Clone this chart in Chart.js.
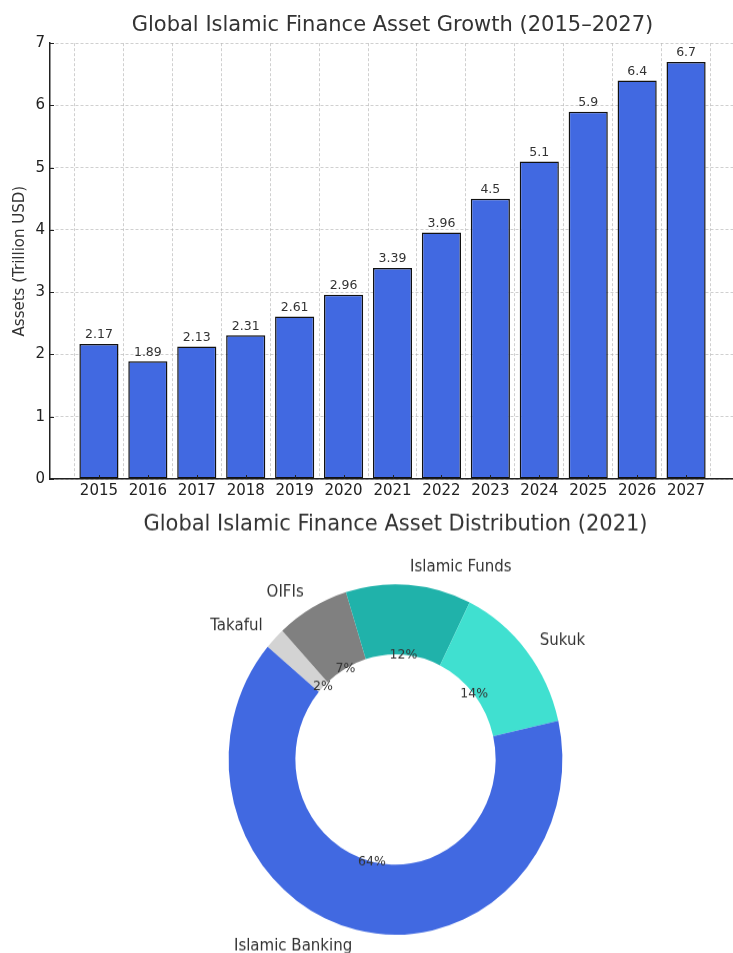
<!DOCTYPE html>
<html>
<head>
<meta charset="utf-8">
<title>Global Islamic Finance</title>
<script src="https://cdn.jsdelivr.net/npm/chart.js@4.4.1/dist/chart.umd.min.js"></script>
<style>
  html, body { margin: 0; padding: 0; background: #fff; overflow: hidden; width: 733px; height: 953px; }
  /* the bar axes run a few px past the right edge, as in the reference */
  #growthBox { position: absolute; left: 0; top: 0; width: 738px; height: 505px; }
  /* the reference donut is slightly taller than wide; canvas shifted so its centre sits at x=395 */
  #splitBox { position: absolute; left: 28.5px; top: 500px; width: 733px; height: 432px;
      transform: scaleY(1.05); transform-origin: 0 0; }
</style>
</head>
<body>
<div id="growthBox"><canvas id="growth" width="738" height="505"></canvas></div>
<div id="splitBox"><canvas id="split" width="733" height="432"></canvas></div>
<script>
// bar chart data
const years = ["2015", "2016", "2017", "2018", "2019", "2020", "2021",
    "2022", "2023", "2024", "2025", "2026", "2027"];
const assets = [2.17, 1.89, 2.13, 2.31, 2.61, 2.96, 3.39, 3.96, 4.5, 5.1, 5.9, 6.4, 6.7];
const yMax = 7;

// donut data (2021)
const segments = ["Islamic Banking", "Sukuk", "Islamic Funds", "OIFIs", "Takaful"];
const shares = [64, 14, 12, 7, 2];
const segmentColors = ["#4169E1", "#40E0D0", "#20B2AA", "#808080", "#D3D3D3"];

Chart.defaults.font.family = "'DejaVu Sans', sans-serif";
Chart.defaults.color = "#222";

const gridColor = "rgba(176,176,176,0.6)";

const innerTicks = {
    id: "innerTicks",
    afterDraw(chart) {
        const { ctx, chartArea, scales } = chart;
        ctx.save();
        ctx.strokeStyle = "#222";
        ctx.lineWidth = 1;
        ctx.beginPath();
        scales.y.ticks.forEach(t => {
            const py = Math.round(scales.y.getPixelForValue(t.value)) + 0.5;
            ctx.moveTo(chartArea.left, py);
            ctx.lineTo(chartArea.left + 4, py);
        });
        years.forEach((_, i) => {
            const px = Math.round(scales.x.getPixelForValue(i)) + 0.5;
            ctx.moveTo(px, chartArea.bottom);
            ctx.lineTo(px, chartArea.bottom - 4);
        });
        ctx.stroke();
        ctx.restore();
    }
};

const barValues = {
    id: "barValues",
    afterDatasetsDraw(chart) {
        const { ctx } = chart;
        const meta = chart.getDatasetMeta(0);
        ctx.save();
        ctx.font = "12.5px 'DejaVu Sans'";
        ctx.fillStyle = "#333";
        ctx.textAlign = "center";
        ctx.textBaseline = "alphabetic";
        meta.data.forEach((bar, i) => {
            ctx.fillText(String(assets[i]), bar.x, bar.y - 5.5);
        });
        ctx.restore();
    }
};

const ringLabels = {
    id: "ringLabels",
    afterDatasetsDraw(chart) {
        const { ctx } = chart;
        const meta = chart.getDatasetMeta(0);
        const labels = chart.data.labels;
        const vals = chart.data.datasets[0].data;
        ctx.save();
        ctx.fillStyle = "#333";
        ctx.textBaseline = "middle";
        meta.data.forEach((arc, i) => {
            const { x, y, startAngle, endAngle, outerRadius } =
                arc.getProps(["x", "y", "startAngle", "endAngle", "outerRadius"], true);
            const mid = (startAngle + endAngle) / 2;
            const dx = Math.cos(mid), dy = Math.sin(mid);
            ctx.font = "15px 'DejaVu Sans'";
            ctx.textAlign = dx >= 0 ? "left" : "right";
            ctx.fillText(labels[i], x + dx * outerRadius * 1.1, y + dy * outerRadius * 1.1);
            ctx.font = "12.5px 'DejaVu Sans'";
            ctx.textAlign = "center";
            ctx.fillText(vals[i] + "%", x + dx * outerRadius * 0.6, y + dy * outerRadius * 0.6);
        });
        ctx.restore();
    }
};

new Chart(document.getElementById("growth"), {
    type: "bar",
    data: {
        datasets: [{
            label: "Assets",
            data: years.map((_, i) => ({ x: i, y: assets[i] })),
            backgroundColor: "#4169E1",
            borderColor: "#111",
            borderWidth: 1.5,
            borderSkipped: false,
            categoryPercentage: 1,
            barPercentage: 0.8
        }]
    },
    options: {
        responsive: false,
        animation: false,
        events: [],
        layout: { padding: 0 },
        scales: {
            x: {
                type: "linear",
                min: -1,
                max: 13,
                offset: false,
                z: 1,
                afterFit: s => { s.height = 26; },
                ticks: {
                    stepSize: 1,
                    autoSkip: false,
                    maxRotation: 0,
                    padding: 3,
                    color: "#222",
                    font: { size: 15 },
                    callback: v => (Number.isInteger(v) && v >= 0 && v < years.length) ? years[v] : ""
                },
                grid: { color: gridColor, lineWidth: 1, drawTicks: false },
                border: { color: "#222", width: 1.5, dash: [3, 2] }
            },
            y: {
                min: 0,
                max: yMax,
                z: 1,
                afterFit: s => { s.width = 50; },
                ticks: { stepSize: 1, padding: 5, color: "#222", font: { size: 15 } },
                grid: { color: gridColor, lineWidth: 1, drawTicks: false },
                border: { color: "#222", width: 1.5, dash: [3, 2] },
                title: {
                    display: true,
                    text: "Assets (Trillion USD)",
                    color: "#333",
                    font: { size: 15 },
                    padding: { top: 11, bottom: 0 }
                }
            }
        },
        plugins: {
            legend: { display: false },
            tooltip: { enabled: false },
            title: {
                display: true,
                text: "Global Islamic Finance Asset Growth (2015\u20132027)",
                color: "#333",
                fullSize: false,
                font: { size: 21, weight: "normal" },
                padding: { top: 13, bottom: 5 }
            }
        }
    },
    plugins: [barValues, innerTicks]
});

// matplotlib draws counter-clockwise from 140deg; Chart.js goes clockwise, so reverse
new Chart(document.getElementById("split"), {
    type: "doughnut",
    data: {
        labels: segments.slice().reverse(),
        datasets: [{
            data: shares.slice().reverse(),
            backgroundColor: segmentColors.slice().reverse(),
            borderWidth: 0,
            hoverBorderWidth: 0,
            hoverOffset: 0
        }]
    },
    options: {
        responsive: false,
        animation: false,
        events: [],
        rotation: -50,
        cutout: "60%",
        layout: { padding: { left: 0, right: 0, top: 0, bottom: 18 } },
        plugins: {
            legend: { display: false },
            tooltip: { enabled: false },
            title: {
                display: true,
                text: "Global Islamic Finance Asset Distribution (2021)",
                color: "#333",
                fullSize: true,
                font: { size: 21, weight: "normal" },
                padding: { top: 11, bottom: 44 }
            }
        }
    },
    plugins: [ringLabels]
});
</script>
</body>
</html>
